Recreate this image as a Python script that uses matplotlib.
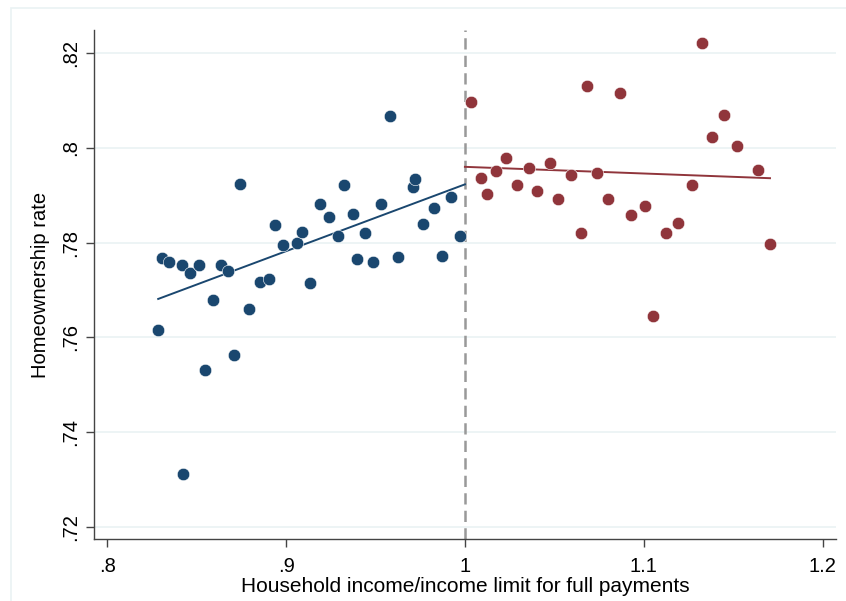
import numpy as np
import matplotlib.pyplot as plt
from matplotlib.patches import Rectangle

plt.rcParams['font.family'] = ['Liberation Sans', 'DejaVu Sans']

# binned means below the income limit
below_x = [0.8284, 0.8304, 0.8347, 0.8416, 0.8423, 0.8464, 0.8513, 0.8548, 0.8593, 0.8636,
           0.8677, 0.8707, 0.8742, 0.8794, 0.8852, 0.8904, 0.8936, 0.8984, 0.9059, 0.9087,
           0.9134, 0.9190, 0.9242, 0.9292, 0.9326, 0.9376, 0.9395, 0.9443, 0.9484, 0.9531,
           0.9581, 0.9628, 0.9708, 0.9721, 0.9764, 0.9829, 0.9872, 0.9924, 0.9974]
below_y = [0.7615, 0.7768, 0.7758, 0.7753, 0.7311, 0.7735, 0.7753, 0.7530, 0.7678, 0.7753,
           0.7739, 0.7563, 0.7923, 0.7660, 0.7716, 0.7723, 0.7837, 0.7794, 0.7799, 0.7823,
           0.7714, 0.7881, 0.7854, 0.7814, 0.7922, 0.7860, 0.7765, 0.7821, 0.7759, 0.7882,
           0.8068, 0.7769, 0.7917, 0.7934, 0.7840, 0.7873, 0.7772, 0.7896, 0.7814]

# binned means above the income limit
above_x = [1.0034, 1.0088, 1.0122, 1.0172, 1.0232, 1.0290, 1.0358, 1.0402, 1.0476, 1.0519,
           1.0593, 1.0649, 1.0685, 1.0739, 1.0799, 1.0869, 1.0929, 1.1006, 1.1052, 1.1126,
           1.1190, 1.1268, 1.1328, 1.1382, 1.1449, 1.1523, 1.1641, 1.1706]
above_y = [0.8096, 0.7937, 0.7903, 0.7951, 0.7979, 0.7921, 0.7958, 0.7909, 0.7968, 0.7892,
           0.7943, 0.7821, 0.8131, 0.7947, 0.7892, 0.8116, 0.7858, 0.7877, 0.7644, 0.7821,
           0.7841, 0.7922, 0.8221, 0.8023, 0.8070, 0.8005, 0.7953, 0.7797]

# linear fits on each side (endpoints)
fit_below_x = [0.8285, 1.0]
fit_below_y = [0.7681, 0.7923]
fit_above_x = [1.0, 1.1706]
fit_above_y = [0.7960, 0.7936]

xticks = [0.8, 0.9, 1.0, 1.1, 1.2]
xticklabels = ['.8', '.9', '1', '1.1', '1.2']
yticks = [0.72, 0.74, 0.76, 0.78, 0.80, 0.82]
yticklabels = ['.72', '.74', '.76', '.78', '.8', '.82']

navy = '#1a476f'
maroon = '#90353b'
grid_c = '#eaf2f3'

fig = plt.figure(figsize=(8.46, 6.01), dpi=100)
fig.patches.append(Rectangle((11 / 846, -0.1), 2, (601 - 8) / 601 + 0.1,
                             transform=fig.transFigure, fill=False,
                             edgecolor=grid_c, linewidth=1.2))
ax = fig.add_axes([94 / 846, 62 / 601, (836 - 94) / 846, (539 - 30) / 601])

ax.set_xlim(0.7926, 1.2075)
ax.set_ylim(0.7174, 0.8249)

for t in yticks:
    ax.axhline(t, color=grid_c, lw=1.2, zorder=0)

ax.axvline(1.0, color='#999999', lw=1.8, linestyle=(0, (4.5, 2.5)), zorder=1)

ax.scatter(below_x, below_y, s=80, color=navy, edgecolors='white', linewidths=0.4, zorder=3)
ax.scatter(above_x, above_y, s=80, color=maroon, edgecolors='white', linewidths=0.4, zorder=3)
ax.plot(fit_below_x, fit_below_y, color=navy, lw=1.4, zorder=2)
ax.plot(fit_above_x, fit_above_y, color=maroon, lw=1.4, zorder=2)

ax.set_xticks(xticks)
ax.set_xticklabels(xticklabels)
ax.set_yticks(yticks)
ax.set_yticklabels(yticklabels, rotation=90, va='center')

for side in ['top', 'right']:
    ax.spines[side].set_visible(False)
for side in ['left', 'bottom']:
    ax.spines[side].set_color('#444444')
    ax.spines[side].set_linewidth(1.0)
ax.tick_params(direction='out', length=6, width=1.0, color='#444444',
               labelsize=14.5)
ax.tick_params(axis='x', pad=7)
ax.tick_params(axis='y', pad=4)

ax.set_xlabel('Household income/income limit for full payments', fontsize=15, labelpad=1)
ax.set_ylabel('Homeownership rate', fontsize=14.5, labelpad=8)

fig.savefig('out.png', dpi=100)
